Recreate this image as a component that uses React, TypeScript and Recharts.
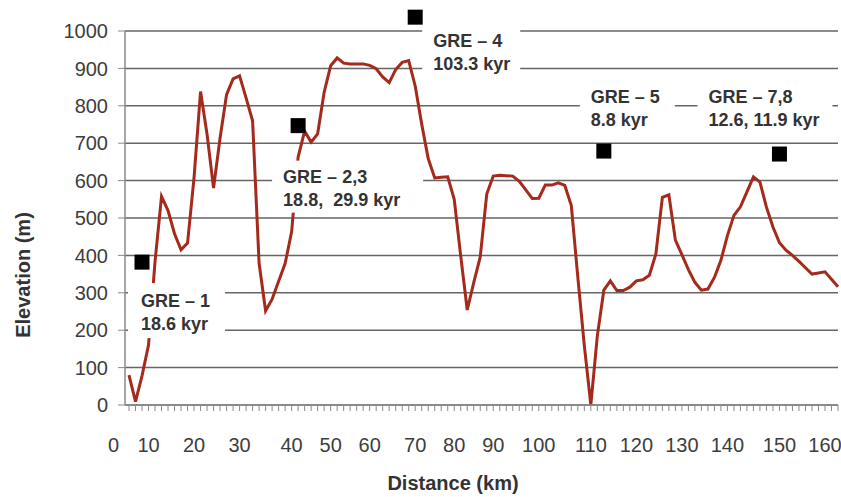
import { LineChart, Line, XAxis, YAxis, CartesianGrid, ReferenceDot } from 'recharts';

// distance along the profile (km), one entry per category on the x axis
const distanceKm = [
  0, 3.3, 6.7, 10, 11.4, 12.9, 14.3, 15.7, 17.1, 18.6,
  20, 21.4, 22.9, 24.3, 25.7, 27.1, 28.6, 30, 31.3, 32.5,
  33.8, 35, 36.3, 37.5, 38.8, 40, 41.7, 43.3, 45, 46.7,
  48.3, 50, 51.7, 53.3, 55, 56.7, 58.3, 60, 61.4, 62.9,
  64.3, 65.7, 67.1, 68.6, 70, 71.7, 73.3, 75, 76.7, 78.3,
  80, 81.7, 83.3, 85, 86.7, 88.3, 90, 91.4, 92.9, 94.3,
  95.7, 97.1, 98.6, 100, 101.3, 102.5, 103.8, 105, 106.3, 107.5,
  108.8, 110, 111.4, 112.9, 114.3, 115.7, 117.1, 118.6, 120, 121.4,
  122.9, 124.3, 125.7, 127.1, 128.6, 130, 131.4, 132.9, 134.3, 135.7,
  137.1, 138.6, 140, 141.3, 142.5, 143.8, 145, 146.3, 147.5, 148.8,
  150, 151.4, 152.9, 154.3, 155.7, 157.1, 158.6, 160, 161.4, 162.9,
];

const elevationM = [
  80, 9, 78, 160, 383, 558, 520, 458, 415, 433,
  608, 838, 724, 580, 714, 830, 872, 880, 821, 760,
  379, 252, 283, 331, 378, 463, 663, 732, 703, 725,
  836, 907, 928, 914, 912, 912, 912, 908, 899, 877,
  862, 897, 916, 921, 853, 751, 659, 607, 609, 610,
  550, 398, 254, 327, 396, 564, 612, 614, 613, 612,
  598, 575, 552, 553, 588, 588, 594, 587, 533, 342,
  159, 0, 185, 307, 332, 306, 306, 315, 332, 335,
  347, 404, 555, 562, 441, 402, 362, 328, 307, 310,
  341, 387, 453, 507, 530, 570, 610, 596, 529, 476,
  434, 414, 400, 384, 367, 350, 353, 356, 336, 316,
];

const elevationTicks = [0, 100, 200, 300, 400, 500, 600, 700, 800, 900, 1000];

// sampling sites
const siteNames = ['GRE \u2013 1', 'GRE \u2013 2,3', 'GRE \u2013 4', 'GRE \u2013 5', 'GRE \u2013 7,8'];
const siteAges = ['18.6 kyr', '18.8,  29.9 kyr', '103.3 kyr', '8.8 kyr', '12.6, 11.9 kyr'];
const siteDistanceKm = [6.7, 41.7, 70, 112.9, 150];
const siteElevationM = [382, 747, 1037, 679, 671];

// callout placement relative to each site marker (px)
const callouts = [
  { tx: -1, ty: 45, bx: -14, by: 21, bw: 97, bh: 55 },
  { tx: -15, ty: 57, bx: -26, by: 35, bw: 151, bh: 52 },
  { tx: 18, ty: 30, bx: 7, by: 8, bw: 98, bh: 51 },
  { tx: -13, ty: -48, bx: -24, by: -71, bw: 95, bh: 55 },
  { tx: -71, ty: -51, bx: -82, by: -74, bw: 135, bh: 55 },
];

const chartData = distanceKm.map((d, i) => ({ distance: d, elevation: elevationM[i] }));

const FONT = '"Liberation Sans", Arial, sans-serif';

function SiteMarker({ cx, cy, index }: any) {
  const c = callouts[index];
  return (
    <g>
      <rect x={cx - 7.5} y={cy - 7.5} width={15} height={15} fill="#000" />
      <rect x={cx + c.bx} y={cy + c.by} width={c.bw} height={c.bh} fill="#fff" />
      <text x={cx + c.tx} y={cy + c.ty} fontSize={18} fontWeight="bold" fill="#333" style={{ whiteSpace: 'pre' }}>
        {siteNames[index]}
      </text>
      <text x={cx + c.tx} y={cy + c.ty + 23} fontSize={18} fontWeight="bold" fill="#333" style={{ whiteSpace: 'pre' }}>
        {siteAges[index]}
      </text>
    </g>
  );
}

function DistanceTick({ x, y, payload }: any) {
  const v = payload.value;
  if (!(Number.isInteger(v) && v % 10 === 0)) return null;
  // the first label sits left of the axis origin, as in the source figure
  const first = v === distanceKm[0];
  return (
    <text
      x={x}
      y={y}
      dx={first ? -10 : 0}
      dy="0.71em"
      textAnchor={first ? 'end' : 'middle'}
      fontSize={20}
      fill="#3d3d3d"
    >
      {v}
    </text>
  );
}

function ElevationTitle(props: any) {
  const vb = props.viewBox || { x: 0, y: 31, width: 125, height: 374 };
  const cx = vb.x + 23;
  const cy = vb.y + vb.height / 2 + 57;
  return (
    <text
      x={cx}
      y={cy}
      transform={`rotate(-90 ${cx} ${cy})`}
      textAnchor="middle"
      dominantBaseline="central"
      fontSize={20}
      fontWeight="bold"
      fill="#333"
    >
      Elevation (m)
    </text>
  );
}

function DistanceTitle(props: any) {
  const vb = props.viewBox || { x: 125, y: 405, width: 713, height: 92 };
  return (
    <text x={vb.x + 328} y={vb.y + 85} textAnchor="middle" fontSize={20} fontWeight="bold" fill="#333">
      Distance (km)
    </text>
  );
}

export default function App() {
  return (
    <div style={{ position: 'absolute', left: 0, top: 0, width: 841, height: 497, background: '#fff', fontFamily: FONT }}>
      <LineChart
        width={841}
        height={497}
        data={chartData}
        margin={{ top: 31, right: 3, bottom: 0, left: 0 }}
      >
        <CartesianGrid vertical={false} stroke="#666" strokeWidth={1.5} />
        <XAxis
          dataKey="distance"
          height={92}
          interval={0}
          padding={{ left: 4, right: 0 }}
          tickSize={6}
          tickMargin={27}
          tick={(p: any) => <DistanceTick {...p} />}
          axisLine={{ stroke: '#8a8a8a', strokeWidth: 1.5 }}
          tickLine={{ stroke: '#8a8a8a' }}
          label={(p: any) => <DistanceTitle {...p} />}
        />
        <YAxis
          width={125}
          domain={[0, 1000]}
          ticks={elevationTicks}
          allowDataOverflow
          tickSize={7}
          tickMargin={10}
          tick={{ fontSize: 20, fill: '#3d3d3d' }}
          axisLine={{ stroke: '#8a8a8a', strokeWidth: 1.5 }}
          tickLine={{ stroke: '#8a8a8a' }}
          label={(p: any) => <ElevationTitle {...p} />}
        />
        <Line
          type="linear"
          dataKey="elevation"
          stroke="#a42a1c"
          strokeWidth={3}
          dot={false}
          isAnimationActive={false}
        />
        {siteNames.map((name, i) => (
          <ReferenceDot
            key={name}
            x={siteDistanceKm[i]}
            y={siteElevationM[i]}
            r={8}
            ifOverflow="visible"
            shape={(p: any) => <SiteMarker cx={p.cx} cy={p.cy} index={i} />}
          />
        ))}
      </LineChart>
    </div>
  );
}
